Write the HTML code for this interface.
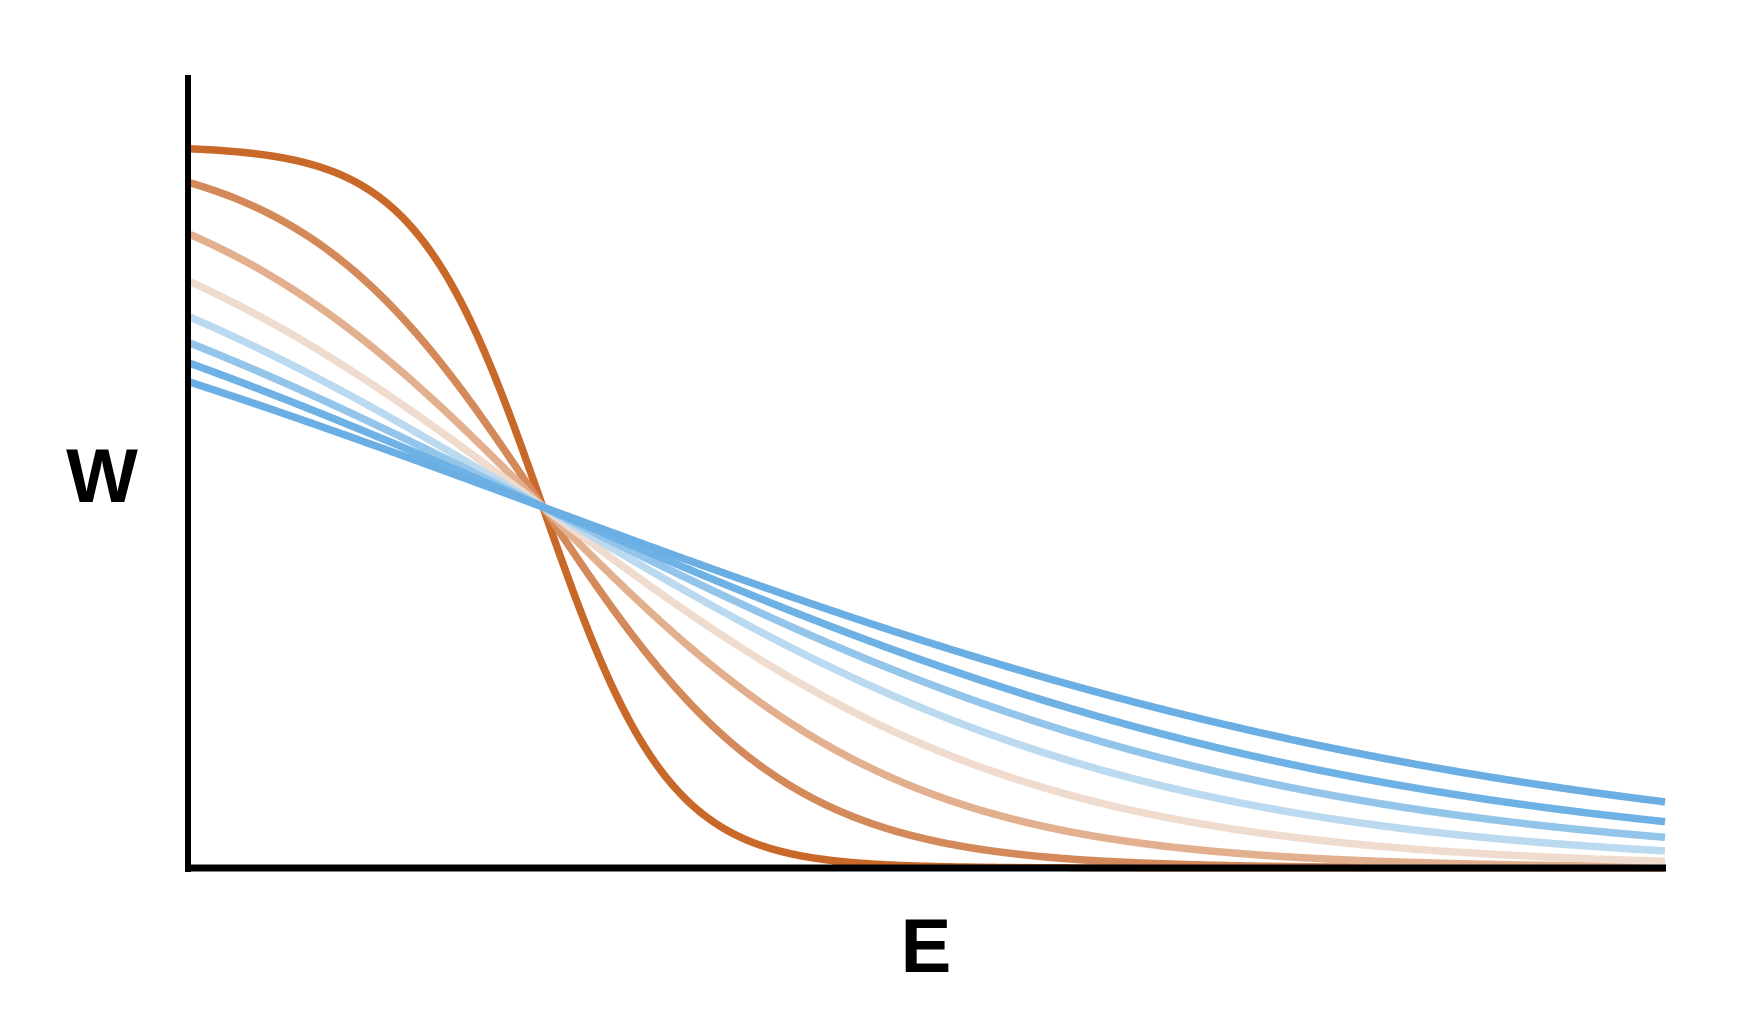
<!DOCTYPE html>
<html><head><meta charset="utf-8"><style>
html,body{margin:0;padding:0;background:#fff;}
svg{display:block;}
text{font-family:"Liberation Sans",sans-serif;font-weight:bold;}
</style></head><body>
<svg id="chart" width="1738" height="1020" viewBox="0 0 1738 1020" xmlns="http://www.w3.org/2000/svg">
<g id="series"></g>
<line x1="188" y1="75" x2="188" y2="872" stroke="#000" stroke-width="6"/>
<line x1="185" y1="868" x2="1666" y2="868" stroke="#000" stroke-width="7"/>
<text x="102" y="502" font-size="76" text-anchor="middle">W</text>
<text x="926" y="972" font-size="76" text-anchor="middle">E</text>
</svg>
<script>
// Temperature of each curve (units of mu) and its colour
const temperatures = [0.18, 0.342, 0.508, 0.683, 0.855, 1.021, 1.187, 1.386];
const colors = ["#C8692A", "#D4895A", "#E2B08F", "#F0DCCE", "#BBDAF0", "#93C4EA", "#6EB1E4", "#6AAEE3"];
const mu = 1.0;
const eMax = 4.18;

const X0 = 190, X1 = 1665, Y0 = 868, Y1 = 146;
function xScale(e){ return X0 + (e / eMax) * (X1 - X0); }
function yScale(w){ return Y0 + w * (Y1 - Y0); }

const g = document.getElementById('series');
const NS = "http://www.w3.org/2000/svg";
temperatures.forEach((T, i) => {
  let d = "";
  const n = 400;
  for (let k = 0; k <= n; k++) {
    const e = eMax * k / n;
    const w = 1 / (1 + Math.exp((e - mu) / T));
    d += (k ? "L" : "M") + xScale(e).toFixed(2) + "," + yScale(w).toFixed(2);
  }
  const p = document.createElementNS(NS, "path");
  p.setAttribute("d", d);
  p.setAttribute("fill", "none");
  p.setAttribute("stroke", colors[i]);
  p.setAttribute("stroke-width", "7.5");
  
  
  g.appendChild(p);
});
</script>
</body></html>
